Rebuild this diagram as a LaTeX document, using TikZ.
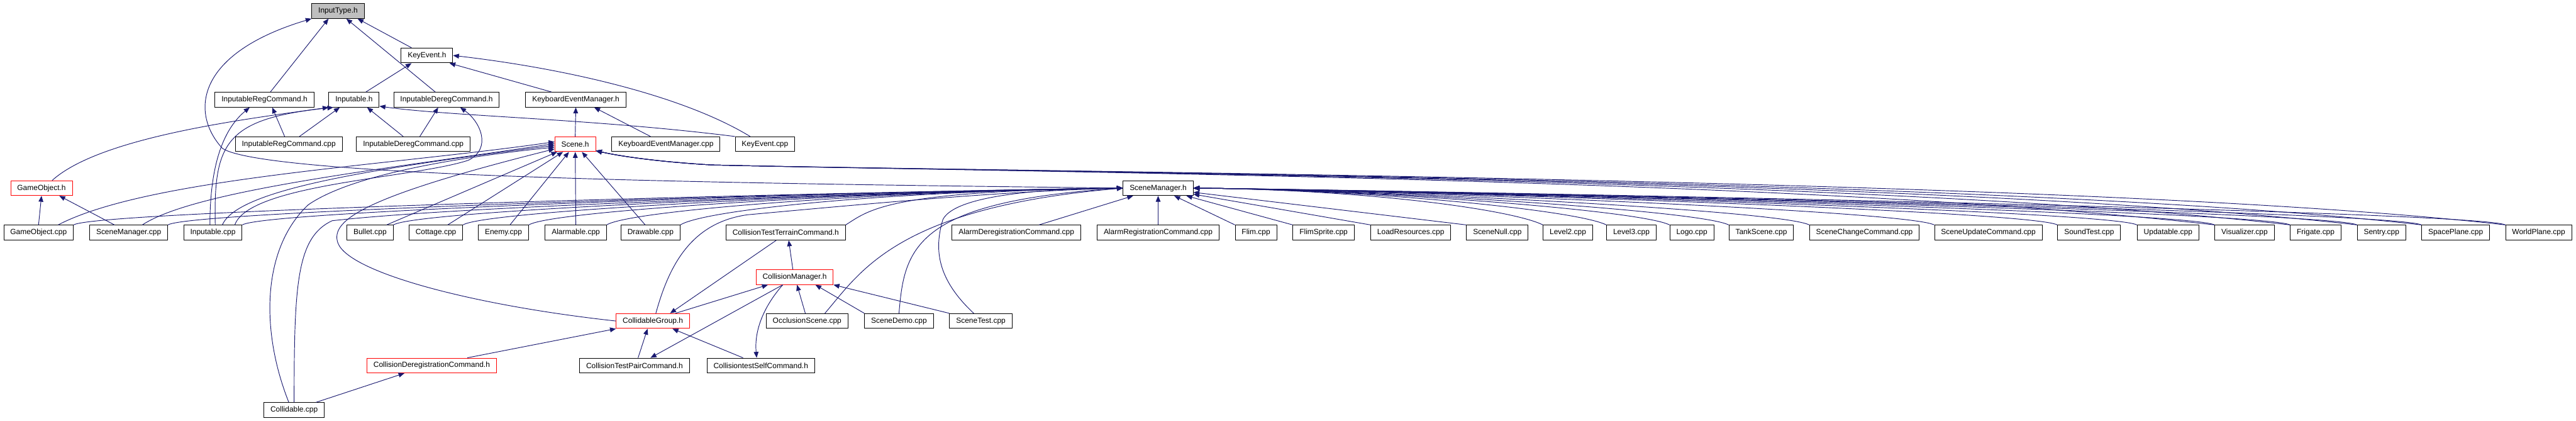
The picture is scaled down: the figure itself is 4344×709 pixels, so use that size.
\documentclass[tikz,border=0pt]{standalone}
\usepackage{fontspec}
\setmainfont{Liberation Sans}
\usetikzlibrary{arrows.meta}
\definecolor{edgeblue}{HTML}{191970}
\definecolor{headgray}{HTML}{BFBFBF}
\tikzset{
  file/.style={draw=black, line width=1pt, fill=white, minimum height=25pt,
    inner xsep=11pt, inner ysep=0pt, font=\fontsize{12.7}{14}\selectfont},
  cut/.style={file, draw=red},
  incl/.style={edgeblue, line width=1pt, -{Triangle[length=10pt,width=8pt]}}
}
\begin{document}
\begin{tikzpicture}[x=1pt, y=-1pt]
  \useasboundingbox (0,0) rectangle (4344,709);
  \node[file, fill=headgray] (inputtype) at (570,18.5) {InputType.h};
  \node[file] (keyevent) at (720,93.5) {KeyEvent.h};
  \node[file] (inpregh) at (446,168) {InputableRegCommand.h};
  \node[file] (inputableh) at (597,168) {Inputable.h};
  \node[file] (inpderegh) at (753,168) {InputableDeregCommand.h};
  \node[file] (kemh) at (971,168) {KeyboardEventManager.h};
  \node[file] (inpregcpp) at (487,243) {InputableRegCommand.cpp};
  \node[file] (inpderegcpp) at (697,243) {InputableDeregCommand.cpp};
  \node[cut] (sceneh) at (970,243) {Scene.h};
  \node[file] (kemcpp) at (1123,243) {KeyboardEventManager.cpp};
  \node[file] (keyeventcpp) at (1290,243) {KeyEvent.cpp};
  \node[cut] (gameobjh) at (70,317) {GameObject.h};
  \node[file] (scenemgrh) at (1953,317) {SceneManager.h};
  \foreach \n/\x/\t in {gameobjcpp/65/GameObject.cpp, scenemgrcpp/217/SceneManager.cpp,
      inputablecpp/359/Inputable.cpp, bullet/624/Bullet.cpp, cottage/735/Cottage.cpp,
      enemy/849/Enemy.cpp, alarmable/971/Alarmable.cpp, drawable/1097/Drawable.cpp,
      terrainh/1325/CollisionTestTerrainCommand.h, alarmdereg/1714/AlarmDeregistrationCommand.cpp,
      alarmreg/1953/AlarmRegistrationCommand.cpp, flim/2118/Flim.cpp, flimsprite/2232/FlimSprite.cpp,
      loadres/2379/LoadResources.cpp, scenenull/2525/SceneNull.cpp, level2/2644/Level2.cpp,
      level3/2751/Level3.cpp, logo/2853/Logo.cpp, tankscene/2970/TankScene.cpp,
      scenechange/3144/SceneChangeCommand.cpp, sceneupdate/3353/SceneUpdateCommand.cpp,
      soundtest/3523/SoundTest.cpp, updatable/3656/Updatable.cpp, visualizer/3785/Visualizer.cpp,
      frigate/3905/Frigate.cpp, sentry/4016/Sentry.cpp, spaceplane/4141/SpacePlane.cpp,
      worldplane/4281/WorldPlane.cpp}
    \node[file] (\n) at (\x,392) {\t};
  \node[cut] (collmgrh) at (1340,467) {CollisionManager.h};
  \node[cut] (collgrouph) at (1101,541) {CollidableGroup.h};
  \node[file] (occlusion) at (1361,541) {OcclusionScene.cpp};
  \node[file] (scenedemo) at (1516,541) {SceneDemo.cpp};
  \node[file] (scenetest) at (1654,541) {SceneTest.cpp};
  \node[cut] (colldereg) at (728,616) {CollisionDeregistrationCommand.h};
  \node[file] (pairh) at (1070,616) {CollisionTestPairCommand.h};
  \node[file] (selfh) at (1283,616) {CollisiontestSelfCommand.h};
  \node[file] (collidablecpp) at (496,691) {Collidable.cpp};

  \draw[incl] ([xshift=-26pt]keyevent.north) -- ([xshift=33pt]inputtype.south);
  \draw[incl] ([xshift=10pt]inpregh.north) -- ([xshift=-16pt]inputtype.south);
  \draw[incl] ([xshift=-19pt]inpderegh.north) -- ([xshift=14pt]inputtype.south);
  \draw[incl] (scenemgrh.west) .. controls (1300,310) and (450,300) .. (375,250)
    .. controls (320,190) and (330,90) .. (inputtype.south west);
  \draw[incl] ([xshift=20pt]inputableh.north) -- ([xshift=-26pt]keyevent.south);
  \draw[incl] ([xshift=-41pt]kemh.north) -- ([xshift=-6pt]keyevent.south east);
  \draw[incl] ([xshift=-25pt]keyeventcpp.north) .. controls (1150,160) and (950,115) .. (keyevent.east);
  \draw[incl] ([xshift=-7pt]inpregcpp.north) -- ([xshift=13pt]inpregh.south);
  \draw[incl] ([xshift=-5pt]inputablecpp.north) .. controls (354,270) and (380,215) .. ([xshift=-25pt]inpregh.south);
  \draw[incl] ([xshift=18pt]gameobjh.north) .. controls (170,230) and (420,200) .. (inputableh.south west);
  \draw[incl] ([xshift=4pt]inputablecpp.north) .. controls (360,240) and (380,200) .. ([xshift=8pt]inputableh.south west);
  \draw[incl] ([xshift=18pt]inpregcpp.north) -- ([xshift=-24pt]inputableh.south);
  \draw[incl] ([xshift=-17pt]inpderegcpp.north) -- ([xshift=22pt]inputableh.south);
  \draw[incl] (keyeventcpp.north west) .. controls (1000,200) and (760,196) .. ([yshift=2pt]inputableh.south east);
  \draw[incl] ([xshift=11pt]inpderegcpp.north) -- ([xshift=-14pt]inpderegh.south);
  \draw[incl] ([xshift=37pt]inputablecpp.north) .. controls (420,310) and (700,300) .. (790,270)
    .. controls (830,250) and (810,205) .. ([xshift=23pt]inpderegh.south);
  \draw[incl] (sceneh.north) -- (kemh.south);
  \draw[incl] ([xshift=-26pt]kemcpp.north) -- ([xshift=31pt]kemh.south);
  \draw[incl] (gameobjcpp.north) -- (gameobjh.south);
  \draw[incl] ([xshift=-24pt]scenemgrcpp.north) -- ([xshift=30pt]gameobjh.south);

  \draw[incl] ([xshift=33pt]gameobjcpp.north) .. controls (250,300) and (650,280) .. ([yshift=4pt]sceneh.west);
  \draw[incl] ([xshift=23pt]scenemgrcpp.north) .. controls (330,320) and (650,285) .. ([yshift=1pt]sceneh.west);
  \draw[incl] ([xshift=16pt]inputablecpp.north) .. controls (400,320) and (620,285) .. ([yshift=-2pt]sceneh.west);
  \draw[incl] ([xshift=-9pt]collidablecpp.north) .. controls (440,560) and (440,420) .. (520,345)
    .. controls (600,290) and (800,262) .. ([yshift=-5pt]sceneh.west);
  \draw[incl] (collgrouph.west) .. controls (800,515) and (590,460) .. (570,410)
    .. controls (555,370) and (620,330) .. ([yshift=-8pt]sceneh.west);
  \draw[incl] ([xshift=28pt]bullet.north) -- (sceneh);
  \draw[incl] ([xshift=20pt]cottage.north) -- (sceneh);
  \draw[incl] ([xshift=11pt]enemy.north) -- (sceneh);
  \draw[incl] (alarmable.north) -- (sceneh);
  \draw[incl] ([xshift=-9pt]drawable.north) -- (sceneh);
  \foreach \n in {visualizer,frigate,sentry,spaceplane,worldplane}
    \draw[incl] (\n.north west) .. controls +(-700,-80) and (1700,290) .. (1200,278)
      .. controls (1100,272) and (1040,262) .. ([yshift=2pt]sceneh.south east);

  \foreach \n in {gameobjcpp,scenemgrcpp,inputablecpp,bullet,cottage,enemy,alarmable,drawable,terrainh}
    \draw[incl] (\n.north east) .. controls +(40,-25) and +(-400,5) .. (scenemgrh.west);
  \draw[incl] (collidablecpp.north) .. controls (496,480) and (500,400) .. (560,372)
    .. controls (800,345) and (1500,325) .. (scenemgrh.west);
  \draw[incl] ([xshift=5pt]collgrouph.north) .. controls (1130,440) and (1170,375) .. (1260,362)
    .. controls (1500,340) and (1700,322) .. (scenemgrh.west);
  \draw[incl] ([xshift=30pt]occlusion.north) .. controls (1450,460) and (1510,350) .. (scenemgrh.west);
  \draw[incl] (scenedemo.north) .. controls (1525,420) and (1540,340) .. (scenemgrh.west);
  \draw[incl] ([xshift=-12pt]scenetest.north) .. controls (1580,470) and (1575,420) .. (1590,370)
    .. controls (1610,330) and (1750,318) .. (scenemgrh.west);
  \draw[incl] ([xshift=38pt]alarmdereg.north) -- (scenemgrh);
  \draw[incl] (alarmreg.north) -- (scenemgrh.south);
  \foreach \n in {flim,flimsprite,loadres,scenenull}
    \draw[incl] (\n.north west) -- (scenemgrh);
  \foreach \n in {level2,level3,logo,tankscene,scenechange,sceneupdate,soundtest,updatable,visualizer,frigate,sentry,spaceplane,worldplane}
    \draw[incl] (\n.north west) .. controls +(-50,-25) and +(300,3) .. (scenemgrh.east);

  \draw[incl] ([xshift=-3pt]collmgrh.north) -- ([xshift=5pt]terrainh.south);
  \draw[incl] ([xshift=-16pt]terrainh.south) -- ([xshift=29pt]collgrouph.north);
  \draw[incl] ([xshift=38pt]collgrouph.north) -- ([xshift=-45pt]collmgrh.south);
  \draw[incl] ([xshift=-3pt]occlusion.north) -- ([xshift=4pt]collmgrh.south);
  \draw[incl] (scenedemo.north west) -- ([xshift=35pt]collmgrh.south);
  \draw[incl] (scenetest.north west) -- (collmgrh.south east);
  \draw[incl] ([xshift=-20pt]collmgrh.south) -- ([xshift=27pt]pairh.north);
  \draw[incl] ([xshift=-20pt]collmgrh.south) .. controls (1285,520) and (1272,560) .. ([xshift=-7pt]selfh.north);
  \draw[incl] ([xshift=6pt]pairh.north) -- ([xshift=-9pt]collgrouph.south);
  \draw[incl] ([xshift=-30pt]selfh.north) -- ([xshift=33pt]collgrouph.south);
  \draw[incl] ([xshift=60pt]colldereg.north) -- (collgrouph.south west);
  \draw[incl] ([xshift=37pt]collidablecpp.north) -- ([xshift=-46pt]colldereg.south);
\end{tikzpicture}
\end{document}
